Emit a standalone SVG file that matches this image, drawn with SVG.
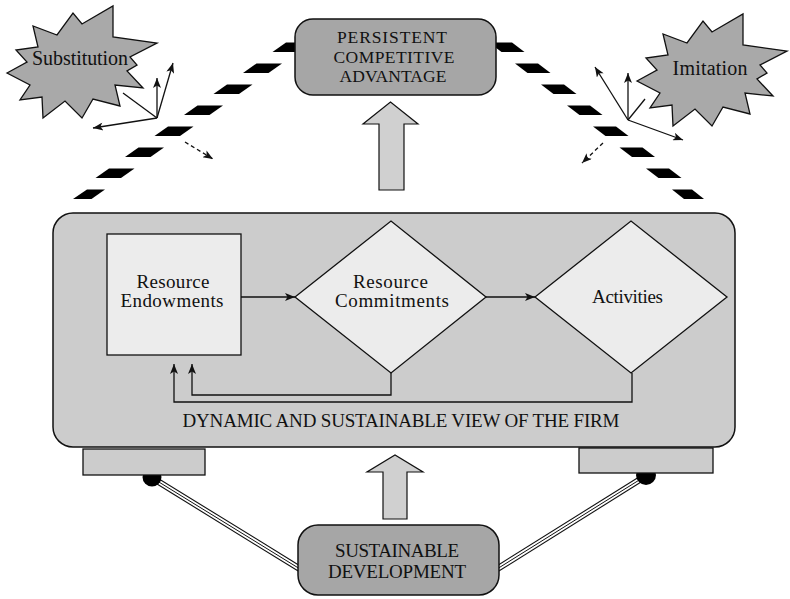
<svg xmlns="http://www.w3.org/2000/svg" width="790" height="599" viewBox="0 0 790 599" font-family="'Liberation Serif', 'Times New Roman', serif">
  <style>
    text { font-family: "Liberation Serif", "Times New Roman", serif; fill: #111; text-anchor: middle; }
    .lbl { font-size: 19px; }
    .cap { font-size: 17.5px; }
    .big { font-size: 19px; }
    .tag { font-size: 20px; }
    .star { fill: #a9a9a9; stroke: #111; stroke-width: 1.3; stroke-linejoin: miter; }
    .pill { fill: #a6a6a6; stroke: #111; stroke-width: 1.5; }
    .inner { fill: #ececec; stroke: #111; stroke-width: 1.3; }
    .fat { fill: #d0d0d0; stroke: #111; stroke-width: 1.2; }
    .wire { fill: none; stroke: #111; stroke-width: 1.3; }
    .dash { fill: none; stroke: #111; stroke-width: 1.3; stroke-dasharray: 4 3; }
    .bar { fill: #000; }
    .stand { fill: #cccccc; stroke: #111; stroke-width: 1.3; }
  </style>
  <defs>
    <marker id="ah" viewBox="0 0 10 8" refX="10" refY="4" markerWidth="11" markerHeight="8" markerUnits="userSpaceOnUse" orient="auto">
      <path d="M0,0 L10,4 L0,8 L2.5,4 z" fill="#111"/>
    </marker>
    <!-- one black band of each broken barrier line -->
    <polygon id="bandL" points="13.5,0 39,0 25.5,9.5 0,9.5"/>
    <polygon id="bandR" points="0,0 23,0 35.5,9.5 12.5,9.5"/>
    <polygon id="burst" points="7,73 27,62 16,50 38,47 33,26 57,35 73,13 82,24 113,6 113,37 157,43 130,57 137,65 127,71 143,88 115,85 120,106 93,99 82,118 65,101 43,118 42,97 20,100 30,85"/>
  </defs>

  <!-- broken barrier lines -->
  <g id="barriers" class="bar">
    <use href="#bandL" x="272.5" y="42.5"/>
    <use href="#bandL" x="243" y="63.5"/>
    <use href="#bandL" x="213.5" y="84.5"/>
    <use href="#bandL" x="184" y="105.5"/>
    <use href="#bandL" x="154.5" y="126.5"/>
    <use href="#bandL" x="125" y="147.5"/>
    <use href="#bandL" x="95.5" y="168.5"/>
    <polygon points="87,189.5 105,189.5 91.5,199 73,199"/>
    <use href="#bandR" x="489" y="42.5"/>
    <use href="#bandR" x="515" y="63.5"/>
    <use href="#bandR" x="541" y="84.5"/>
    <use href="#bandR" x="567" y="105.5"/>
    <use href="#bandR" x="593" y="126.5"/>
    <use href="#bandR" x="619.5" y="147.5"/>
    <use href="#bandR" x="646" y="168.5"/>
    <polygon points="672,189.5 692,189.5 704,199 684,199"/>
  </g>

  <!-- threats -->
  <g id="substitution">
    <use href="#burst" class="star"/>
    <text class="tag" x="80" y="65" textLength="96">Substitution</text>
  </g>
  <g id="imitation">
    <use href="#burst" class="star" x="630" y="8"/>
    <text class="tag" x="710" y="75" textLength="75">Imitation</text>
  </g>

  <!-- top outcome -->
  <g id="persistent">
    <rect class="pill" x="295" y="19" width="201" height="76" rx="18"/>
    <text class="cap" x="392" y="43" textLength="110">PERSISTENT</text>
    <text class="cap" x="394" y="63" textLength="121">COMPETITIVE</text>
    <text class="cap" x="393" y="82" textLength="107">ADVANTAGE</text>
  </g>

  <!-- firm view -->
  <g id="firm">
    <rect x="53" y="213" width="682" height="234" rx="20" fill="#cccccc" stroke="#111" stroke-width="1.5"/>
    <text class="big" x="401" y="427" textLength="437">DYNAMIC AND SUSTAINABLE VIEW OF THE FIRM</text>
  </g>
  <g id="endowments">
    <rect class="inner" x="107" y="234" width="134" height="121"/>
    <text class="lbl" x="173" y="288" textLength="73">Resource</text>
    <text class="lbl" x="172" y="307" textLength="103">Endowments</text>
  </g>
  <g id="commitments">
    <polygon class="inner" points="295,297 391,221 486,297 391,373"/>
    <text class="lbl" x="390.5" y="288" textLength="75">Resource</text>
    <text class="lbl" x="392" y="307" textLength="114">Commitments</text>
  </g>
  <g id="activities">
    <polygon class="inner" points="535,297 631,221 727,297 631,373"/>
    <text class="lbl" x="627.5" y="303" textLength="71">Activities</text>
  </g>

  <!-- base supports -->
  <g id="supports">
    <g fill="none" stroke-linecap="butt">
      <line x1="154" y1="479" x2="300" y2="569" stroke="#111" stroke-width="6.5"/>
      <line x1="154" y1="479" x2="300" y2="569" stroke="#fff" stroke-width="4.3"/>
      <line x1="154" y1="479" x2="300" y2="569" stroke="#111" stroke-width="1"/>
      <line x1="644" y1="477" x2="497" y2="569" stroke="#111" stroke-width="6.5"/>
      <line x1="644" y1="477" x2="497" y2="569" stroke="#fff" stroke-width="4.3"/>
      <line x1="644" y1="477" x2="497" y2="569" stroke="#111" stroke-width="1"/>
    </g>
    <circle cx="152" cy="477" r="9.5" fill="#000"/>
    <circle cx="646" cy="475" r="10" fill="#000"/>
    <rect class="stand" x="83" y="449" width="122" height="26"/>
    <rect class="stand" x="579" y="448" width="134" height="25"/>
  </g>

  <g id="sustainable">
    <rect class="pill" x="298" y="525" width="201" height="70" rx="20"/>
    <text class="big" x="397" y="557" textLength="124">SUSTAINABLE</text>
    <text class="big" x="397" y="578" textLength="138">DEVELOPMENT</text>
  </g>

  <!-- connectors -->
  <g id="connectors">
    <polygon class="fat" points="379,190 379,124 363,124 390.5,102 418,124 404,124 404,190"/>
    <polygon class="fat" points="383,519 383,472 367,472 395,455 423,472 407,472 407,519"/>
    <line class="wire" x1="241" y1="297" x2="295" y2="297" marker-end="url(#ah)"/>
    <line class="wire" x1="486" y1="297" x2="535" y2="297" marker-end="url(#ah)"/>
    <polyline class="wire" points="391,373 391,395 192,395 192,364" marker-end="url(#ah)"/>
    <polyline class="wire" points="632,373 632,402 174,402 174,364" marker-end="url(#ah)"/>

    <line class="wire" x1="157" y1="118" x2="157" y2="78" marker-end="url(#ah)"/>
    <line class="wire" x1="157" y1="118" x2="173" y2="63" marker-end="url(#ah)"/>
    <line class="wire" x1="157" y1="118" x2="93" y2="128" marker-end="url(#ah)"/>
    <line class="wire" x1="157" y1="118" x2="123" y2="93"/>
    <line class="dash" x1="185" y1="142" x2="213" y2="159" marker-end="url(#ah)"/>

    <line class="wire" x1="628" y1="120" x2="595" y2="67" marker-end="url(#ah)"/>
    <line class="wire" x1="628" y1="120" x2="628" y2="73" marker-end="url(#ah)"/>
    <line class="wire" x1="628" y1="120" x2="683" y2="140" marker-end="url(#ah)"/>
    <line class="wire" x1="628" y1="120" x2="645" y2="99"/>
    <line class="dash" x1="603" y1="143" x2="582" y2="163" marker-end="url(#ah)"/>
  </g>
</svg>
